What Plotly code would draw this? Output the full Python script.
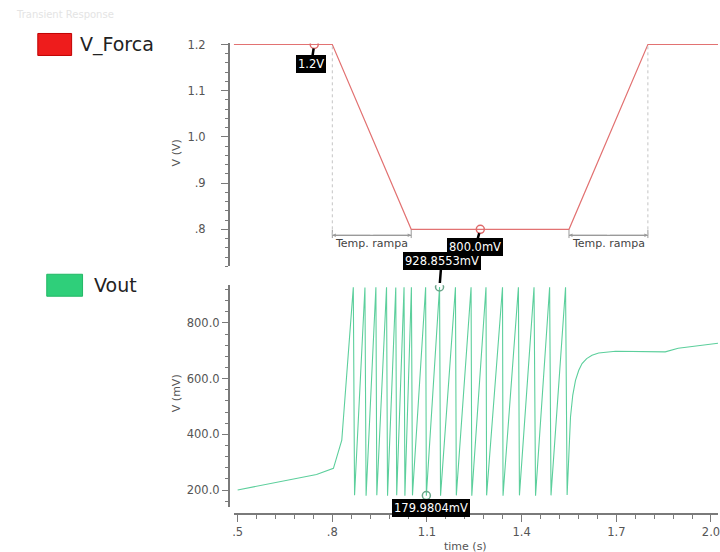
import plotly.graph_objects as go

# ---------------- data ----------------
vf_t = [0.4875, 0.80, 1.05, 1.55, 1.80, 2.03]
vf_v = [1.2, 1.2, 0.8, 0.8, 1.2, 1.2]

vout_t = [0.50, 0.60, 0.68, 0.75, 0.8035, 0.830,
          0.8665, 0.8705, 0.9034, 0.9070, 0.9381, 0.9410, 0.9718, 0.9750,
          1.0011, 1.0040, 1.0273, 1.0300, 1.0506, 1.0540, 1.0957, 1.0980,
          1.1398, 1.1430, 1.1902, 1.1930, 1.2397, 1.2420, 1.2870, 1.2890,
          1.3393, 1.3410, 1.3897, 1.3930, 1.4392, 1.4440, 1.4886, 1.4930,
          1.5391, 1.5441,
          1.5548, 1.5620, 1.5706, 1.5810, 1.5914, 1.6060, 1.6229, 1.6440,
          1.6976, 1.7700, 1.8550, 1.8960, 1.9590, 2.0222]
vout_v = [200, 222, 238, 256, 278, 379,
          928, 181, 927, 180, 928, 181, 928, 180,
          927, 181, 928, 180, 928, 181, 928, 179.9804,
          928.8553, 180, 928, 181, 928, 180, 928, 181,
          928, 180, 928, 181, 928, 180, 928, 181,
          928, 182,
          462, 541, 594, 630, 654, 672, 684, 692,
          698, 696, 696, 709, 718, 727]

vf_mark_t = [0.7427, 1.269]
vf_mark_v = [1.2, 0.8]
vf_mark_txt = ["1.2V", "800.0mV"]
vo_mark_t = [1.1398, 1.098]
vo_mark_v = [928.8553, 179.9804]
vo_mark_txt = ["928.8553mV", "179.9804mV"]

x_ticks = [0.5, 0.8, 1.1, 1.4, 1.7, 2.0]
x_ticktext = [".5", ".8", "1.1", "1.4", "1.7", "2.0"]
y1_ticks = [0.8, 0.9, 1.0, 1.1, 1.2]
y1_ticktext = [".8", ".9", "1.0", "1.1", "1.2"]
y2_ticks = [200, 400, 600, 800]
y2_ticktext = ["200.0", "400.0", "600.0", "800.0"]

ramp_spans = [(0.80, 1.05), (1.55, 1.80)]

# ---------------- styling ----------------
W, H = 720, 552
HE = 546.5  # effective vertical scale used for paper placement
RED_LINE = "#e27272"
RED_BOX = "#ee1c1c"
GRN_LINE = "#5ccf9c"
GRN_BOX = "#2fcf7a"
AX = "#7a7a7a"
TXT = "#555555"
FONT = "DejaVu Sans"

def px(x):
    return x / W

def py(y):
    return (H - y) / HE

fig = go.Figure()

fig.add_trace(go.Scatter(x=vf_t, y=vf_v, mode="lines", xaxis="x", yaxis="y2",
                         line=dict(color=RED_LINE, width=1.2), showlegend=False,
                         hoverinfo="skip"))
fig.add_trace(go.Scatter(x=vf_mark_t, y=vf_mark_v, mode="markers", xaxis="x", yaxis="y2",
                         marker=dict(symbol="circle-open", size=8, color="#de6a6a",
                                     line=dict(width=1.5)),
                         showlegend=False, hoverinfo="skip"))
fig.add_trace(go.Scatter(x=vout_t, y=vout_v, mode="lines", xaxis="x", yaxis="y",
                         line=dict(color=GRN_LINE, width=1.1), showlegend=False,
                         hoverinfo="skip"))
fig.add_trace(go.Scatter(x=vo_mark_t, y=vo_mark_v, mode="markers", xaxis="x", yaxis="y",
                         marker=dict(symbol="circle-open", size=8, color="#6aa58a",
                                     line=dict(width=1.5)),
                         showlegend=False, hoverinfo="skip"))

axis_common = dict(showline=True, linecolor=AX, linewidth=1.5, ticks="outside",
                   tickcolor=AX, tickwidth=1.2, showgrid=False, zeroline=False,
                   tickfont=dict(family=FONT, size=11.5, color=TXT),
                   ticklabeloverflow="allow")

fig.update_layout(
    width=W, height=H, margin=dict(l=0, r=0, t=0, b=0),
    paper_bgcolor="white", plot_bgcolor="white",
    xaxis=dict(domain=[px(233), 1], range=[0.4875, 2.0222], anchor="free",
               position=py(514), tickmode="array", tickvals=x_ticks,
               ticktext=x_ticktext, ticklen=7,
               minor=dict(tick0=0.5, dtick=0.06, ticklen=4, ticks="outside",
                          tickcolor=AX, tickwidth=1),
               **axis_common),
    yaxis=dict(domain=[py(507), py(285)], range=[139, 935.2], anchor="free",
               position=px(228), tickmode="array", tickvals=y2_ticks,
               ticktext=y2_ticktext, ticklen=6, ticklabelstandoff=0,
               minor=dict(tick0=160, dtick=40, ticklen=3, ticks="outside",
                          tickcolor=AX, tickwidth=1),
               **axis_common),
    yaxis2=dict(domain=[py(266), py(43)], range=[0.72, 1.2022], anchor="free",
                position=px(228), tickmode="array", tickvals=y1_ticks,
                ticktext=y1_ticktext, ticklen=7, ticklabelstandoff=13,
                minor=dict(tick0=0.72, dtick=0.02, ticklen=3, ticks="outside",
                           tickcolor=AX, tickwidth=1),
                **axis_common),
)

shapes = []
annotations = []

def note(text, x, y, size, color, angle=0, xanchor="center"):
    return dict(text=text, xref="paper", yref="paper", x=px(x), y=py(y),
                xanchor=xanchor, yanchor="middle", textangle=angle, showarrow=False,
                font=dict(family=FONT, size=size, color=color))

# legend boxes
shapes.append(dict(type="rect", xref="paper", yref="paper",
                   x0=px(36), x1=px(70), y0=py(55), y1=py(33),
                   fillcolor=RED_BOX, line=dict(color="#c00000", width=1)))
shapes.append(dict(type="rect", xref="paper", yref="paper",
                   x0=px(45), x1=px(81), y0=py(296), y1=py(274),
                   fillcolor=GRN_BOX, line=dict(color="#22b865", width=1)))
annotations.append(note("V_Forca", 76, 44, 19, "#222", xanchor="left"))
annotations.append(note("Vout", 90, 285, 19, "#222", xanchor="left"))
annotations.append(note("Transient Response", 12, 14, 10, "#e4e4e4", xanchor="left"))

# axis titles
annotations.append(note("V (V)", 175, 153, 11, TXT, angle=-90))
annotations.append(note("V (mV)", 175, 393, 11, TXT, angle=-90))
annotations.append(note("time (s)", 466, 546, 11, TXT))

# ramp measurement brackets
yb = 0.787
for (a, b) in ramp_spans:
    shapes.append(dict(type="line", xref="x", yref="y2", x0=a, x1=b, y0=yb, y1=yb,
                       line=dict(color="#9a9a9a", width=1.2)))
    for e in (a, b):
        shapes.append(dict(type="line", xref="x", yref="y2", x0=e, x1=e, y0=yb - 0.006,
                           y1=yb + 0.012, line=dict(color="#9a9a9a", width=1)))
        annotations.append(dict(text="", x=e, y=yb, xref="x", yref="y2",
                                ax=(a + b) / 2, ay=yb, axref="x", ayref="y2",
                                showarrow=True, arrowhead=2, arrowsize=0.7,
                                arrowwidth=1, arrowcolor="#9a9a9a"))
    annotations.append(dict(text="Temp. rampa", x=(a + b) / 2, y=yb, xref="x", yref="y2",
                            xanchor="center", yanchor="top", yshift=0, showarrow=False,
                            font=dict(family=FONT, size=11, color="#444")))
# dotted guide lines at ramp extremes
for e in (ramp_spans[0][0], ramp_spans[1][1]):
    shapes.append(dict(type="line", xref="x", yref="y2", x0=e, x1=e, y0=yb, y1=1.2,
                       line=dict(color="#c4c4c4", width=1, dash="dot")))

# marker labels
def tag(x, y, yref, text, ax, ay):
    return dict(text=text, x=x, y=y, xref="x", yref=yref, ax=ax, ay=ay,
                xanchor="center", yanchor="middle",
                showarrow=True, arrowhead=0, arrowwidth=2.5, arrowcolor="#000",
                standoff=4, bgcolor="#000", bordercolor="#000", borderpad=1,
                font=dict(family=FONT, size=11.5, color="#fff"))

annotations.append(tag(vf_mark_t[0], vf_mark_v[0], "y2", vf_mark_txt[0], -3, 20))
annotations.append(tag(vf_mark_t[1], vf_mark_v[1], "y2", vf_mark_txt[1], -5, 18))
annotations.append(tag(vo_mark_t[0], vo_mark_v[0], "y", vo_mark_txt[0], 2, -26))
annotations.append(tag(vo_mark_t[1], vo_mark_v[1], "y", vo_mark_txt[1], 5, 12))

fig.update_layout(shapes=shapes, annotations=annotations)

fig.write_html("out.html")
